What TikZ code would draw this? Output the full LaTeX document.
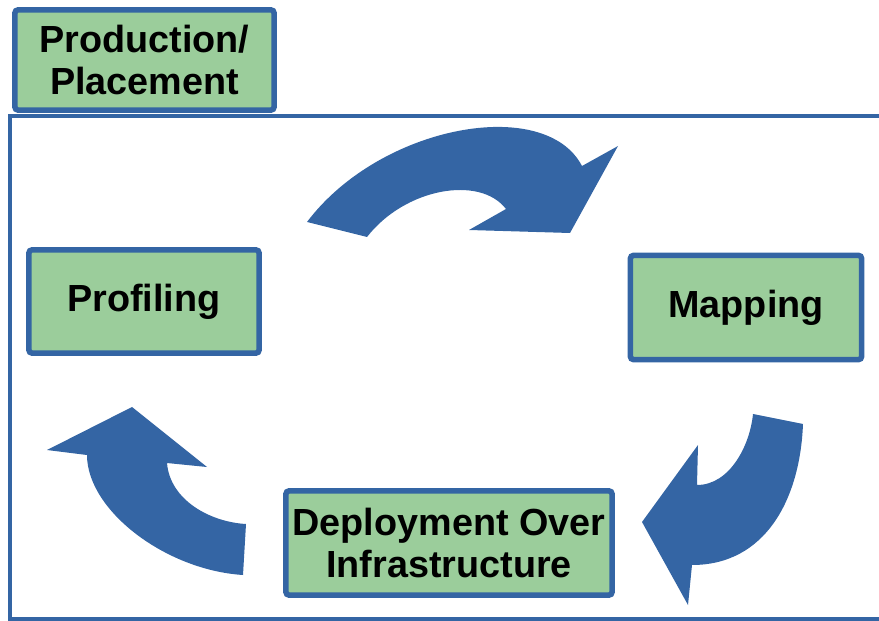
\documentclass[tikz,border=0pt]{standalone}
\usepackage{fontspec}
\setmainfont{Liberation Sans}
\usepackage{xcolor}
\usepackage{tikz}
\usetikzlibrary{positioning}
\definecolor{cycleblue}{RGB}{52,101,164}
\definecolor{stagegreen}{RGB}{155,205,155}
\tikzset{
  stagebox/.style={rectangle, draw=cycleblue, fill=stagegreen, line width=0.11cm, minimum width=4.61cm, minimum height=2.07cm, align=center, rounded corners=2pt, font=\bfseries\fontsize{21.5}{24}\selectfont, inner sep=0pt},
  tabbox/.style={stagebox, minimum width=5.19cm, minimum height=2.01cm},
  framebox/.style={draw=cycleblue, line width=0.08cm},
  cyclearrow/.style={fill=cycleblue, draw=none},
}

\begin{document}
\begin{tikzpicture}[x=0.02cm, y=-0.02cm]
  \useasboundingbox (0,0) rectangle (879,621);
  % Frame
  \draw[framebox] (885,116) -- (10,116) -- (10,619) -- (885,619);
  % Nodes
  \node[tabbox] (prod) at (144.5,60) {Production/\\Placement};
  \node[stagebox] (prof) at (144,301.5) {Profiling};
  \node[stagebox, minimum width=4.63cm, minimum height=2.09cm] (map) at (746,307.5) {Mapping};
  \node[stagebox, minimum width=6.53cm, minimum height=2.09cm] (deploy) at (449,543) {Deployment Over\\Infrastructure};

  % Arrows
  \fill[cyclearrow] (307,222) .. controls (380,125) and (545,95) .. (582,166)
    -- (618,146) -- (570,233) -- (469,230) -- (506,209)
    .. controls (480,175) and (405,188) .. (367,237) -- cycle;
  \fill[cyclearrow] (753,414) -- (803,424) .. controls (800,500) and (765,565) .. (692,565)
    -- (688,605) -- (642,522) -- (698,445) -- (697,485)
    .. controls (730,485) and (750,445) .. (753,414) -- cycle;
  \fill[cyclearrow] (246,524) -- (243,575) .. controls (165,570) and (87,510) .. (87,455)
    -- (47,450) -- (132,407) -- (207,467) -- (167,463)
    .. controls (170,500) and (210,522) .. (246,524) -- cycle;
\end{tikzpicture}
\end{document}
